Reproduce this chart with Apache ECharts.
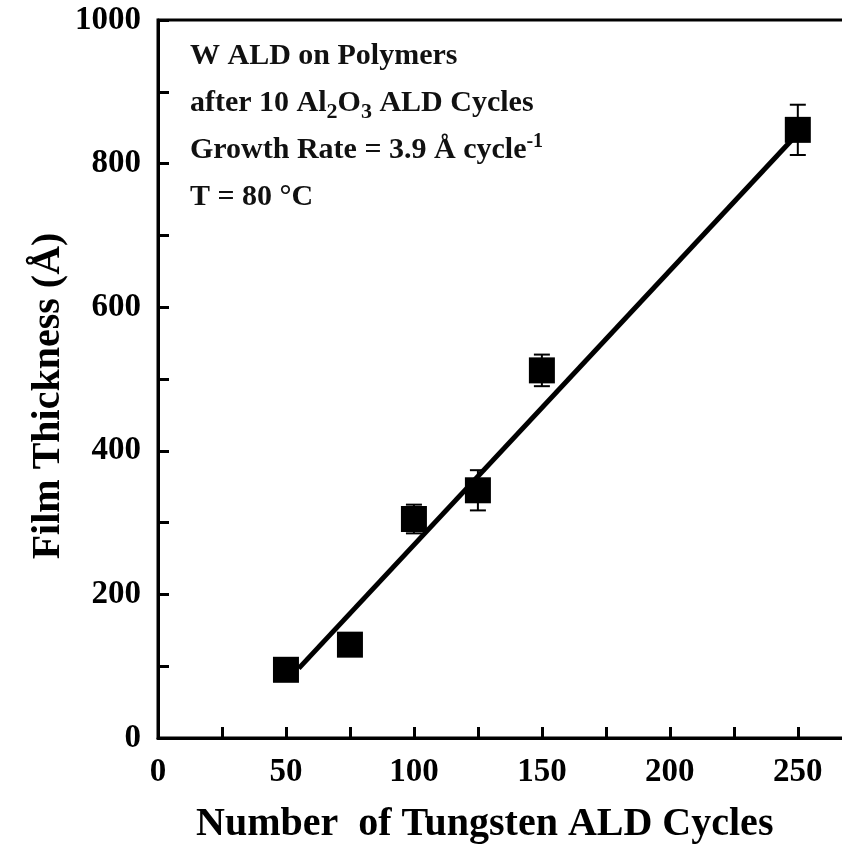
<!DOCTYPE html>
<html>
<head>
<meta charset="utf-8">
<script src="https://cdn.jsdelivr.net/npm/echarts@6/dist/echarts.min.js"></script>
<style>
  html, body { margin: 0; padding: 0; background: #fff; }
  #chart-container { width: 842px; height: 847px; }
</style>
</head>
<body>
<div id="chart-container"></div>
<script>
// values
var cycles = [50, 75, 100, 125, 150, 250];
var thickness = [95, 130, 305, 345, 512, 847];
var errors = [0, 0, 20, 28, 22, 35];

// linear fit drawn in the figure (3.9 A / cycle)
var fitX = [55, 250];
var fitY = [97, 842];

var xTicks = [0, 50, 100, 150, 200, 250];
var yTicks = [0, 200, 400, 600, 800, 1000];

var FONT = "Liberation Serif";

var chartDom = document.getElementById("chart-container");
var myChart = echarts.init(chartDom);

var points = cycles.map(function (c, i) { return [c, thickness[i]]; });
var bars = cycles.map(function (c, i) { return [c, thickness[i] - errors[i], thickness[i] + errors[i]]; });
var fitLine = fitX.map(function (x, i) { return [x, fitY[i]]; });

function showTick(list) {
  return function (v) { return list.indexOf(v) >= 0 ? String(v) : ""; };
}

var option = {
  animation: false,
  backgroundColor: "#fff",
  grid: {
    left: 158, top: 20, width: 691, height: 718,
    outerBoundsMode: "none",
    containLabel: false,
    show: true, borderColor: "#000", borderWidth: 3, backgroundColor: "transparent"
  },
  xAxis: {
    type: "value", min: 0, max: 270, interval: 50,
    axisLine: { lineStyle: { color: "#000", width: 3 } },
    axisTick: { inside: true, length: 11, lineStyle: { color: "#000", width: 3 } },
    minorTick: { show: true, splitNumber: 2, length: 11, lineStyle: { color: "#000", width: 3 } },
    splitLine: { show: false },
    axisLabel: {
      formatter: showTick(xTicks), margin: 18,
      color: "#000", fontFamily: FONT, fontWeight: "bold", fontSize: 33
    }
  },
  yAxis: {
    type: "value", min: 0, max: 1000, interval: 200,
    axisLine: { lineStyle: { color: "#000", width: 3 } },
    axisTick: { inside: true, length: 11, lineStyle: { color: "#000", width: 3 } },
    minorTick: { show: true, splitNumber: 2, length: 11, lineStyle: { color: "#000", width: 3 } },
    splitLine: { show: false },
    axisLabel: {
      formatter: showTick(yTicks), margin: 17,
      color: "#000", fontFamily: FONT, fontWeight: "bold", fontSize: 33
    }
  },
  graphic: [
    {
      type: "text", x: 49, y: 396, rotation: Math.PI / 2,
      style: {
        text: "Film Thickness (Å)",
        fill: "#000", font: "bold 40px 'Liberation Serif'",
        align: "center", verticalAlign: "middle"
      }
    },
    {
      type: "text", left: 196, top: 805,
      style: {
        text: "Number  of Tungsten ALD Cycles",
        fill: "#000", font: "bold 40px 'Liberation Serif'"
      }
    },
    {
      type: "text", left: 190, top: 41,
      style: {
        text: "{b|W ALD on Polymers}\n{b|after 10 Al}{sub|2}{b|O}{sub|3}{b| ALD Cycles}\n{b|Growth Rate = 3.9 Å cycle}{sup|-1}\n{b|T = 80 °C}",
        fill: "#111",
        rich: {
          b: { fontFamily: FONT, fontWeight: "bold", fontSize: 30, lineHeight: 47, fill: "#111" },
          sub: { fontFamily: FONT, fontWeight: "bold", fontSize: 22, lineHeight: 47, padding: [19, 0, 0, 0], fill: "#111" },
          sup: { fontFamily: FONT, fontWeight: "bold", fontSize: 20, lineHeight: 47, padding: [0, 0, 17, 0], fill: "#111" }
        }
      }
    }
  ],
  series: [
    {
      type: "line",
      data: fitLine,
      symbol: "none",
      lineStyle: { color: "#000", width: 5 },
      z: 2
    },
    {
      type: "custom",
      data: bars,
      renderItem: function (params, api) {
        var x = api.value(0);
        var lo = api.coord([x, api.value(1)]);
        var hi = api.coord([x, api.value(2)]);
        var w = 8;
        var st = { stroke: "#000", lineWidth: 2 };
        return {
          type: "group",
          children: [
            { type: "line", shape: { x1: lo[0], y1: lo[1], x2: hi[0], y2: hi[1] }, style: st },
            { type: "line", shape: { x1: lo[0] - w, y1: lo[1], x2: lo[0] + w, y2: lo[1] }, style: st },
            { type: "line", shape: { x1: hi[0] - w, y1: hi[1], x2: hi[0] + w, y2: hi[1] }, style: st }
          ]
        };
      },
      z: 3
    },
    {
      type: "scatter",
      data: points,
      symbol: "rect",
      symbolSize: 26,
      itemStyle: { color: "#000", opacity: 1 },
      z: 4
    }
  ]
};

myChart.setOption(option);
</script>
</body>
</html>
